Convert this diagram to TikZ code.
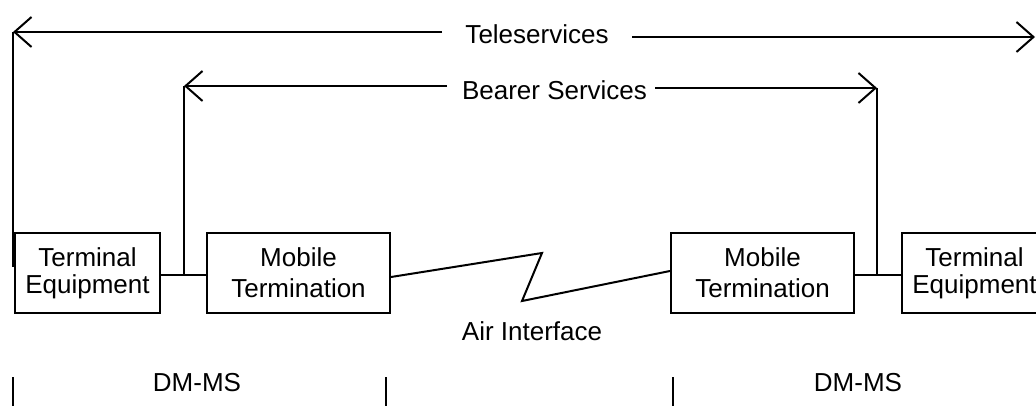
\documentclass[tikz,border=0pt]{standalone}
\usepackage{fontspec}
\setmainfont{Liberation Sans}
\usetikzlibrary{arrows.meta}
\begin{document}
\begin{tikzpicture}[x=1pt,y=1pt,
  line width=2pt,
  every node/.style={font=\fontsize{26}{28}\selectfont, inner sep=0pt},
  unitbox/.style={draw, line width=2pt, minimum height=80pt, align=center},
  tebox/.style={unitbox, minimum width=145pt, font=\fontsize{26}{27}\selectfont},
  mtbox/.style={unitbox, minimum width=183pt, font=\fontsize{26}{31}\selectfont},
  barb/.style={-{Straight Barb[length=17pt,width=30pt,line width=2pt]}}
]
\useasboundingbox (0,0) rectangle (1036,-406);
\clip (0,0) rectangle (1036,-406);
% boxes
\node[tebox] (te1) at (87.5,-273) {Terminal\\Equipment};
\node[mtbox] (mt1) at (298.5,-273) {Mobile\\Termination};
\node[mtbox] (mt2) at (762.5,-273) {Mobile\\Termination};
\node[tebox] (te2) at (974.5,-273) {Terminal\\Equipment};
% links between boxes
\draw (te1.east |- 0,-275) -- (mt1.west |- 0,-275);
\draw (mt2.east |- 0,-275) -- (te2.west |- 0,-275);
% air interface zigzag
\coordinate (z1) at (542,-253);
\coordinate (z2) at (522,-301);
\draw (mt1.east |- 0,-277) -- (z1) -- (z2) -- (mt2.west |- 0,-271);
\node (air) at (532,-331) {Air Interface};
% teleservices
\node (tele) at (537,-34) {Teleservices};
\coordinate (tl) at (13,-32);
\coordinate (tlb) at (13,-267);
\coordinate (tr) at (1035,-37);
\draw[barb] (442,-32) -- (tl);
\draw (tl) -- (tlb);
\draw[barb] (632,-37) -- (tr);
% bearer services
\node (bear) at (554.5,-90) {Bearer Services};
\coordinate (bl) at (184,-86);
\coordinate (blb) at (184,-275);
\coordinate (br) at (877,-88);
\coordinate (brb) at (877,-275);
\draw[barb] (447,-86) -- (bl);
\draw (bl) -- (blb);
\draw[barb] (655,-88) -- (br);
\draw (br) -- (brb);
% DM-MS
\node (dm1) at (197,-383) {DM-MS};
\node (dm2) at (858,-383) {DM-MS};
\coordinate (d1) at (13,-377);
\coordinate (d2) at (386,-377);
\coordinate (d3) at (673,-377);
\draw (d1) -- (13,-406);
\draw (d2) -- (386,-406);
\draw (d3) -- (673,-406);
\end{tikzpicture}
\end{document}
